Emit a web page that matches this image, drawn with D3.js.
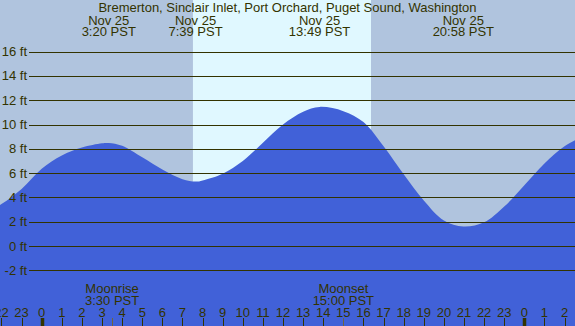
<!DOCTYPE html>
<html><head><meta charset="utf-8">
<script src="https://cdn.jsdelivr.net/npm/d3@7"></script>
<style>
html,body{margin:0;padding:0;background:#b0c4de;}
svg{display:block;}
text{font-family:"Liberation Sans",Arial,sans-serif;fill:#333300;}
</style></head>
<body>
<svg id="chart" width="575" height="326"></svg>
<script>
// ---- data (hours relative to midnight Nov 25 PST, heights in ft) ----
const title = "Bremerton, Sinclair Inlet, Port Orchard, Puget Sound, Washington";
const tideHours =   [-3, -2, -1, 0, 1, 2, 3, 3.33, 4, 5, 6, 7, 7.65, 8, 9, 10, 11, 12, 13, 13.82, 15, 16, 17, 18, 19, 20, 20.97, 22, 23, 24, 25, 26, 27];
const tideHeights = [2.4, 3.45, 4.7, 6.35, 7.45, 8.1, 8.45, 8.48, 8.25, 7.3, 6.3, 5.5, 5.3, 5.4, 5.95, 7.0, 8.5, 10.0, 11.05, 11.45, 11.1, 10.2, 8.2, 5.9, 3.75, 2.1, 1.6, 1.95, 3.25, 5.0, 6.8, 8.2, 9.1];
const eventHours = [3.333, 7.65, 13.817, 20.967];
const eventDates = ["Nov 25", "Nov 25", "Nov 25", "Nov 25"];
const eventTimes = ["3:20 PST", "7:39 PST", "13:49 PST", "20:58 PST"];
const sunHours = [7.52, 16.375];           // daylight band
const moonHours = [3.5, 15.0];
const moonNames = ["Moonrise", "Moonset"];
const moonTimes = ["3:30 PST", "15:00 PST"];
const gridFeet = [-2, 0, 2, 4, 6, 8, 10, 12, 14, 16];
const tickHours = d3.range(-2, 27);
const tickLabels = tickHours.map(h => String(((h % 24) + 24) % 24));

// ---- layout ----
const W = 575, H = 326;
const x = d3.scaleLinear().domain([-2.074, 26.519]).range([0, W]);
const y = d3.scaleLinear().domain([-6.584, 20.247]).range([H, 0]);
const svg = d3.select("#chart");

// background: night + day band
svg.append("rect").attr("width", W).attr("height", H).attr("fill", "#b0c4de");
svg.append("rect").attr("x", x(sunHours[0])).attr("y", 0)
  .attr("width", x(sunHours[1]) - x(sunHours[0])).attr("height", H).attr("fill", "#e0f8ff");

// water
const pts = tideHours.map((h, i) => [h, tideHeights[i]]);
const area = d3.area().x(d => x(d[0])).y0(H).y1(d => y(d[1])).curve(d3.curveCatmullRom.alpha(0.5));
svg.append("path").datum(pts).attr("d", area).attr("fill", "#4161d8");

// gridlines + y labels
const g = svg.append("g");
g.selectAll("line.grid").data(gridFeet).join("line")
  .attr("x1", 29).attr("x2", W)
  .attr("y1", d => Math.round(y(d)) + 0.5).attr("y2", d => Math.round(y(d)) + 0.5)
  .attr("stroke", "#333300").attr("stroke-width", 1);
g.selectAll("text.yl").data(gridFeet).join("text")
  .attr("x", 27).attr("y", d => y(d) + 4.5).attr("text-anchor", "end")
  .attr("font-size", 13).text(d => d + " ft");

// title
svg.append("text").attr("x", 287.5).attr("y", 11.5).attr("text-anchor", "middle")
  .attr("font-size", 13).text(title);

// tide event labels
eventHours.forEach((h, i) => {
  svg.append("text").attr("x", x(h)).attr("y", 24.5).attr("text-anchor", "middle")
    .attr("font-size", 13).text(eventDates[i]);
  svg.append("text").attr("x", x(h)).attr("y", 36).attr("text-anchor", "middle")
    .attr("font-size", 13).text(eventTimes[i]);
});

// moon labels
moonHours.forEach((h, i) => {
  svg.append("text").attr("x", x(h)).attr("y", 292.5).attr("text-anchor", "middle")
    .attr("font-size", 13).text(moonNames[i]);
  svg.append("text").attr("x", x(h)).attr("y", 304.5).attr("text-anchor", "middle")
    .attr("font-size", 13).text(moonTimes[i]);
});

// hour ticks and labels
svg.selectAll("line.tick").data(tickHours).join("line")
  .attr("x1", d => Math.round(x(d)) + 0.5).attr("x2", d => Math.round(x(d)) + 0.5)
  .attr("y1", 318).attr("y2", H)
  .attr("stroke", "#333300")
  .attr("stroke-width", d => (d % 24 === 0) ? 3.5 : 1);
svg.selectAll("line.moon").data(moonHours).join("line")
  .attr("x1", d => Math.round(x(d)) + 0.5).attr("x2", d => Math.round(x(d)) + 0.5)
  .attr("y1", 318).attr("y2", H)
  .attr("stroke", "#6e6440").attr("stroke-width", 1);
svg.selectAll("text.hl").data(tickHours).join("text")
  .attr("x", d => x(d)).attr("y", 316.5).attr("text-anchor", "middle")
  .attr("font-size", 13).text((d, i) => tickLabels[i]);
</script>
</body></html>
